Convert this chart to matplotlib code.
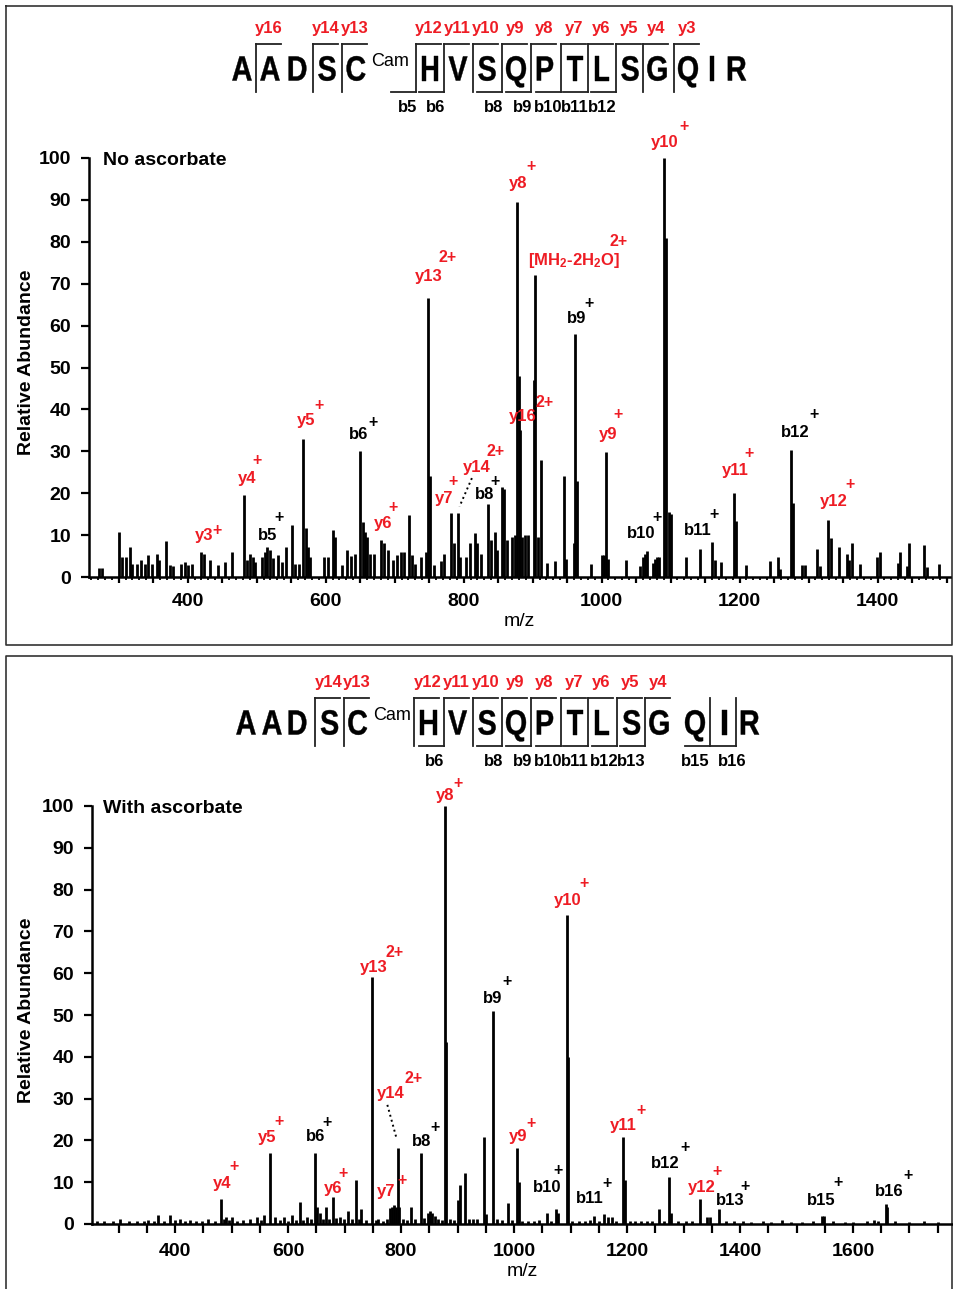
import matplotlib
matplotlib.use("Agg")
import matplotlib.pyplot as plt
from matplotlib.font_manager import FontProperties
from matplotlib.textpath import TextPath
from matplotlib.patches import PathPatch
from matplotlib.transforms import Affine2D
from matplotlib.ticker import MultipleLocator, FuncFormatter

plt.rcParams['font.family'] = ['Liberation Sans', 'DejaVu Sans']
plt.rcParams['font.weight'] = 'bold'
plt.rcParams['mathtext.fontset'] = 'custom'
plt.rcParams['mathtext.rm'] = 'Liberation Sans:bold'
plt.rcParams['mathtext.it'] = 'Liberation Sans:bold'
plt.rcParams['mathtext.bf'] = 'Liberation Sans:bold'

RED = '#ee1c24'
W, H = 954, 1289

# peptide and observed fragments
sequence = list("AADSCHVSQPTLSGQIR")
top_y_ions = [16, 14, 13, 12, 11, 10, 9, 8, 7, 6, 5, 4, 3]
top_b_ions = [5, 6, 8, 9, 10, 11, 12]
bot_y_ions = [14, 13, 12, 11, 10, 9, 8, 7, 6, 5, 4]
bot_b_ions = [6, 8, 9, 10, 11, 12, 13, 15, 16]

# spectrum without ascorbate (m/z, relative abundance)
top_mz = [271, 276, 300, 305, 310, 316, 320, 326, 332, 338, 343, 348, 355, 358, 369, 374,
          379, 391, 396, 400, 406, 420, 424, 432, 444, 454, 465, 481, 486, 490, 494, 498,
          508, 512, 515, 519, 523, 531, 537, 543, 551, 555, 561, 567, 571, 575, 578, 597,
          603, 611, 614, 624, 631, 637, 643, 650, 654, 657, 660, 664, 670, 680, 684, 690,
          697, 704, 709, 714, 721, 725, 730, 738, 745, 748, 751, 757, 767, 772, 782, 786,
          792, 795, 804, 809, 816, 820, 825, 835, 839, 845, 849, 856, 858, 863, 870, 875,
          878, 880, 882, 885, 889, 893, 902, 904, 908, 912, 921, 933, 945, 949, 960, 962,
          965, 985, 1001, 1004, 1007, 1010, 1036, 1055, 1060, 1063, 1066, 1075, 1078, 1080,
          1083, 1091, 1094, 1097, 1100, 1122, 1142, 1160, 1164, 1173, 1192, 1195, 1210, 1244,
          1255, 1259, 1275, 1277, 1290, 1295, 1312, 1316, 1328, 1332, 1344, 1356, 1358, 1363,
          1375, 1399, 1404, 1429, 1433, 1443, 1445, 1468, 1472, 1489]
top_int = [2.1, 2.1, 10.8, 4.7, 4.7, 7.2, 3.1, 3.2, 4.0, 3.2, 5.2, 3.2, 5.6, 4.0, 8.5, 2.8,
           2.6, 3.1, 3.6, 2.8, 3.1, 6.0, 5.6, 4.0, 2.8, 3.6, 6.0, 19.6, 4.0, 5.6, 4.7, 3.6,
           4.7, 6.0, 7.1, 6.4, 4.5, 5.2, 3.6, 7.2, 12.4, 3.2, 3.2, 33.0, 11.6, 7.2, 4.7, 4.7,
           4.8, 11.2, 9.6, 2.9, 6.4, 5.0, 5.6, 30.1, 13.2, 10.8, 9.6, 5.6, 5.6, 8.8, 8.0, 6.4,
           4.0, 5.2, 6.0, 6.0, 14.8, 5.2, 3.2, 4.8, 6.0, 66.5, 24.0, 2.9, 3.7, 5.6, 15.2, 8.0,
           15.2, 4.8, 4.8, 8.0, 10.4, 8.0, 5.6, 17.5, 8.8, 10.8, 6.4, 21.5, 21.0, 8.9, 9.6, 10.0,
           89.5, 48.0, 35.0, 9.6, 10.0, 10.0, 47.0, 72.0, 9.6, 28.0, 3.3, 3.7, 24.0, 4.2, 8.0, 58.0,
           23.0, 3.1, 5.2, 5.2, 29.8, 4.4, 4.0, 2.6, 4.8, 5.5, 6.3, 3.3, 4.4, 4.7,
           4.8, 100.0, 81.0, 15.6, 15.0, 4.8, 6.8, 8.4, 4.0, 3.6, 20.1, 13.4, 2.8, 3.7,
           4.7, 2.0, 30.2, 17.6, 2.9, 2.9, 6.8, 2.6, 13.7, 9.2, 7.2, 5.4, 4.0, 8.0,
           3.1, 4.7, 6.0, 3.4, 6.0, 2.6, 8.0, 7.6, 2.5, 3.1]

# spectrum with ascorbate
bot_mz = [262, 275, 290, 303, 318, 332, 345, 353, 362, 370, 380, 391, 400, 409, 418, 426,
          437, 448, 459, 470, 481, 486, 490, 495, 500, 510, 520, 533, 545, 552, 558, 568,
          577, 585, 592, 600, 607, 614, 621, 627, 633, 640, 648, 651, 656, 662, 668, 673,
          680, 685, 692, 699, 707, 713, 720, 725, 730, 738, 749, 755, 760, 768, 775, 780,
          784, 788, 791, 794, 797, 803, 810, 818, 824, 835, 840, 847, 851, 855, 860, 866,
          872, 878, 880, 887, 893, 900, 904, 913, 920, 928, 935, 946, 950, 963, 970, 978,
          990, 996, 1005, 1008, 1015, 1025, 1035, 1045, 1059, 1065, 1075, 1078, 1094, 1096,
          1102, 1115, 1125, 1135, 1142, 1150, 1160, 1167, 1173, 1181, 1193, 1196, 1205, 1215,
          1225, 1235, 1245, 1256, 1265, 1274, 1277, 1290, 1305, 1315, 1329, 1342, 1346, 1362,
          1375, 1390, 1405, 1420, 1440, 1455, 1474, 1490, 1510, 1530, 1545, 1549, 1565, 1585,
          1600, 1625, 1637, 1645, 1658, 1661, 1675, 1700, 1725, 1750]
bot_int = [0.6, 0.8, 0.7, 1.1, 0.6, 0.8, 0.6, 1.0, 0.7, 2.1, 0.8, 2.1, 0.9, 1.1, 0.7, 1.0,
           0.6, 0.8, 1.3, 0.8, 6.1, 1.2, 1.7, 1.0, 1.6, 0.8, 1.0, 1.3, 1.6, 0.9, 2.1, 16.9,
           1.7, 0.9, 1.6, 0.8, 2.1, 1.0, 5.2, 1.0, 1.6, 1.2, 16.9, 4.0, 2.6, 1.3, 4.0, 1.2,
           6.5, 1.5, 1.6, 1.1, 3.2, 1.2, 10.5, 1.3, 3.5, 1.0, 59.0, 1.0, 1.3, 0.8, 1.3, 3.8,
           4.1, 4.5, 4.0, 18.1, 4.0, 1.2, 1.0, 4.0, 1.3, 16.9, 1.5, 2.7, 3.0, 2.7, 2.0, 1.3,
           1.0, 100.0, 43.5, 1.2, 1.0, 5.7, 9.3, 12.1, 1.1, 1.1, 1.2, 20.9, 2.4, 51.0, 1.2, 0.9,
           5.0, 1.0, 18.1, 10.0, 0.8, 0.7, 0.8, 0.9, 2.6, 0.8, 3.7, 2.6, 74.0, 40.0,
           0.8, 0.6, 0.8, 0.9, 2.0, 0.8, 2.3, 1.6, 1.6, 0.7, 20.9, 10.5, 0.8, 0.7,
           0.8, 0.6, 0.8, 3.7, 0.8, 11.3, 2.6, 0.7, 0.6, 0.8, 6.0, 1.6, 1.6, 3.7,
           0.7, 0.6, 0.6, 0.5, 0.6, 0.5, 1.0, 0.5, 0.5, 0.6, 2.0, 2.0, 0.6, 0.5,
           0.5, 0.6, 1.0, 0.8, 4.8, 4.1, 0.6, 0.5, 0.6, 0.5]

# peak labels: text, colour, charge text, label position, charge position (data units)
top_labels = [
    ('y10', RED, '+', (1092, 103.8), (1119.6, 107.4)),
    ('y8', RED, '+', (879, 94), (898, 98)),
    ('[MH$_{2}$-2H$_{2}$O]', RED, '2+', (960, 75.6), (1024, 80)),
    ('y13', RED, '2+', (750, 71.6), (777, 76.3)),
    ('b9', 'k', '+', (964.5, 61.6), (982, 65.2)),
    ('y16', RED, '2+', (885, 38.4), (918, 41.6)),
    ('y9', RED, '+', (1009, 33.9), (1024, 38.7)),
    ('b12', 'k', '+', (1281, 34.6), (1308, 38.7)),
    ('y11', RED, '+', (1193.5, 25.5), (1213, 29.4)),
    ('y12', RED, '+', (1337, 17.9), (1360, 22.1)),
    ('b11', 'k', '+', (1140, 11.2), (1163, 14.8)),
    ('b10', 'k', '+', (1057, 10.3), (1080, 14.1)),
    ('y5', RED, '+', (571, 37.3), (591, 41)),
    ('b6', 'k', '+', (648, 34.1), (669, 36.9)),
    ('y4', RED, '+', (486, 23.6), (500, 27.7)),
    ('y3', RED, '+', (424, 10), (442, 11.2)),
    ('b5', 'k', '+', (516, 10), (533, 14.2)),
    ('y6', RED, '+', (683, 12.7), (697, 16.5)),
    ('y7', RED, '+', (772, 18.7), (785, 22.9)),
    ('y14', RED, '2+', (819, 26.2), (847, 29.9)),
    ('b8', 'k', '+', (831, 19.6), (846, 22.9)),
]
bot_labels = [
    ('y8', RED, '+', (878, 102.4), (900, 105.3)),
    ('y10', RED, '+', (1094.5, 77.5), (1123, 81.4)),
    ('y13', RED, '2+', (751, 61.4), (788, 64.9)),
    ('b9', 'k', '+', (963, 53.9), (987, 57.9)),
    ('y14', RED, '2+', (782, 31.2), (822, 34.9)),
    ('y5', RED, '+', (563, 20.7), (584.5, 24.6)),
    ('b6', 'k', '+', (648, 20.9), (668.5, 24.2)),
    ('b8', 'k', '+', (836.5, 19.7), (860, 23.1)),
    ('y9', RED, '+', (1007.5, 20.9), (1029.5, 24.1)),
    ('y11', RED, '+', (1193.5, 23.5), (1224, 27.1)),
    ('b12', 'k', '+', (1268, 14.5), (1302.7, 18.3)),
    ('y4', RED, '+', (483, 9.7), (505, 13.7)),
    ('y6', RED, '+', (680, 8.5), (698, 12.1)),
    ('y7', RED, '+', (773.5, 7.7), (801, 10.5)),
    ('b10', 'k', '+', (1058, 8.8), (1077, 12.8)),
    ('b11', 'k', '+', (1135, 6), (1164, 9.6)),
    ('y12', RED, '+', (1333, 8.8), (1359, 12.5)),
    ('b13', 'k', '+', (1382, 5.6), (1409, 8.9)),
    ('b15', 'k', '+', (1544, 5.7), (1574, 9.9)),
    ('b16', 'k', '+', (1664, 7.7), (1698, 11.5)),
]

# header letter x positions (pixels) for each panel
top_letter_x = [242, 270, 297.5, 327, 356, 430, 458, 487, 516, 545, 575, 602, 630, 657, 688, 712, 737]
bot_letter_x = [246, 272, 297.5, 329.5, 357.7, 428.3, 457.6, 487, 516, 545, 575, 602, 631.5, 659, 695, 724.5, 750]

seq_prop = FontProperties(family='Liberation Sans', weight='bold')

fig = plt.figure(figsize=(W / 100, H / 100), dpi=100)

# overlay in pixel coordinates for borders and header
over = fig.add_axes([0, 0, 1, 1])
over.set_xlim(0, W)
over.set_ylim(H, 0)
over.axis('off')


def seq_letter(x, y, aa):
    # condensed bold letter, cap height ~25 px
    tp = TextPath((0, 0), aa, size=35, prop=seq_prop)
    ext = tp.get_extents()
    cx = (ext.x0 + ext.x1) / 2
    tr = Affine2D().translate(-cx, -0.716 * 35 / 2).scale(0.82, -1.0).translate(x, y)
    over.add_patch(PathPatch(tr.transform_path(tp), facecolor='k', edgecolor='k', lw=0.3))


def draw_header(letter_x, y_ions, b_ions, dy, b_nudge):
    n = len(sequence)
    for aa, x in zip(sequence, letter_x):
        seq_letter(x, 68 + dy, aa)
    # cysteine modification
    over.text(letter_x[4] + 34, 61 + dy, 'Cam', ha='center', va='center',
              fontsize=13, weight='normal', color='k')
    sites = sorted(set([n - k for k in y_ions] + b_ions))
    for s in sites:
        xv = letter_x[s] - 14
        over.plot([xv, xv], [44 + dy, 92 + dy], color='#222222', lw=1.3)
        if (n - s) in y_ions:
            over.plot([xv, xv + 25], [44 + dy, 44 + dy], color='#222222', lw=1.3)
            over.text(xv + 13, 29 + dy, 'y%d' % (n - s), ha='center', va='center',
                      fontsize=12, color=RED)
        if s in b_ions:
            over.plot([xv - 25, xv], [92 + dy, 92 + dy], color='#222222', lw=1.3)
            over.text(xv + 1 + b_nudge.get(s, 0), 108 + dy, 'b%d' % s, ha='right', va='center',
                      fontsize=12, color='k')


def draw_spectrum(rect, mz, inten, xlim, labels, minor, tick_len, dots, title):
    ax = fig.add_axes(rect)
    ax.patch.set_visible(False)
    ax.vlines(mz, 0, inten, colors='k', lw=2.0, zorder=3)
    ax.set_xlim(*xlim)
    ax.set_ylim(0, 100)
    for side in ('top', 'right'):
        ax.spines[side].set_visible(False)
    for side in ('left', 'bottom'):
        ax.spines[side].set_linewidth(1.8)
    ax.yaxis.set_major_locator(MultipleLocator(10))
    ax.xaxis.set_major_locator(MultipleLocator(50))
    ax.xaxis.set_major_formatter(FuncFormatter(lambda v, p: '%d' % v if round(v) % 200 == 0 else ''))
    if minor:
        ax.xaxis.set_minor_locator(MultipleLocator(minor))
        ax.tick_params(axis='x', which='minor', length=2.2, width=1.3, direction='out')
    ax.tick_params(axis='x', which='major', length=tick_len, width=1.6, direction='out',
                   labelsize=14, pad=7)
    ax.tick_params(axis='y', which='major', length=6, width=1.6, direction='out',
                   labelsize=14, pad=7)
    for text, color, charge, pos, cpos in labels:
        ax.text(pos[0], pos[1], text, color=color, fontsize=12, ha='center', va='center')
        ax.text(cpos[0], cpos[1], charge, color=color, fontsize=11.5, ha='center', va='center')
    ax.plot([dots[0][0], dots[1][0]], [dots[0][1], dots[1][1]], color='k', ls=':', lw=1.4)
    ax.text(xlim[0] + 20, 99.5, title, fontsize=14, ha='left', va='center')
    ax.set_xlabel('m/z', fontsize=14, labelpad=2)
    return ax


# panel borders
over.plot([6, 952, 952, 6, 6], [6, 6, 645, 645, 6], color='#333333', lw=1.2)
over.plot([6, 6, 952, 952], [1300, 656, 656, 1300], color='#333333', lw=1.2)

draw_header(top_letter_x, top_y_ions, top_b_ions, 0, {})
draw_header(bot_letter_x, bot_y_ions, bot_b_ions, 654, {15: -2, 16: 10})

draw_spectrum([89 / W, 1 - 577 / H, 861 / W, 419 / H], top_mz, top_int, (257, 1505),
              top_labels, 10, 4.5, ((812, 23.6), (794, 16.8)), 'No ascorbate')
draw_spectrum([92 / W, 1 - 1224 / H, 861 / W, 418 / H], bot_mz, bot_int, (253, 1777),
              bot_labels, None, 6.5, ((775.8, 28.5), (791.2, 20.9)), 'With ascorbate')

fig.text(27 / W, 1 - 362 / H, 'Relative Abundance', rotation=90, ha='center', va='center', fontsize=14)
fig.text(27 / W, 1 - 1010 / H, 'Relative Abundance', rotation=90, ha='center', va='center', fontsize=14)

fig.savefig('out.png', dpi=100)
